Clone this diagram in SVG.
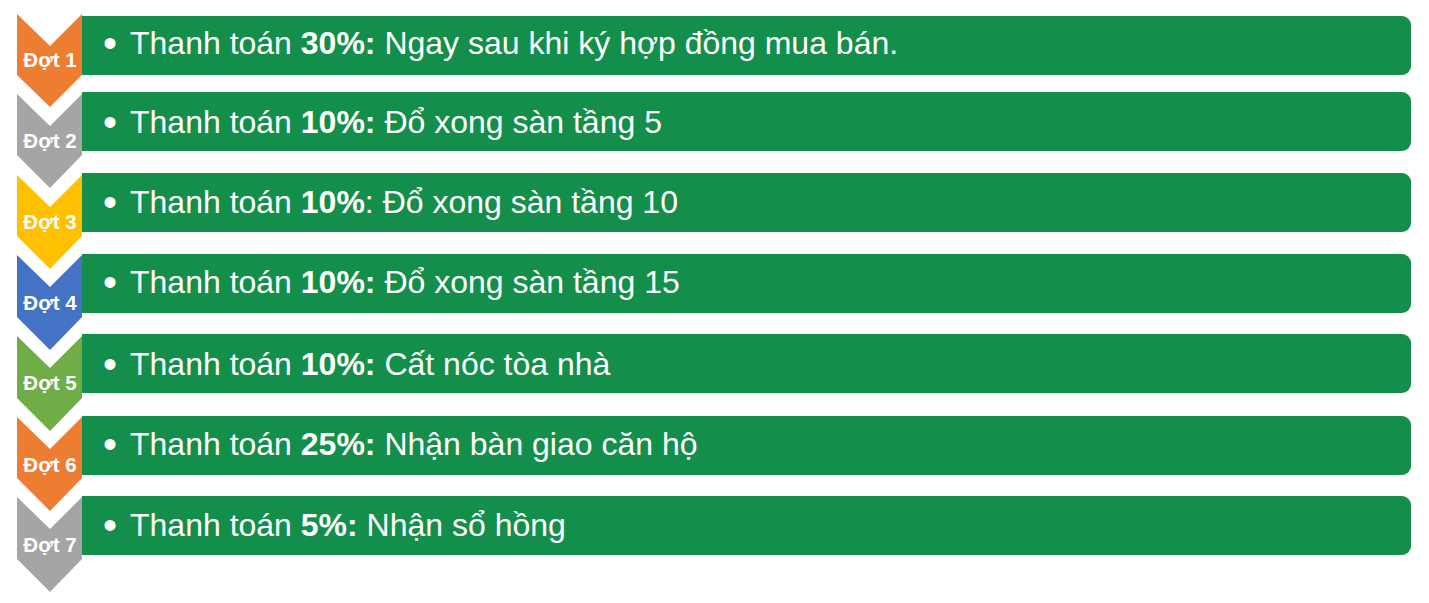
<svg xmlns="http://www.w3.org/2000/svg" width="1429" height="603" viewBox="0 0 1429 603">
<style>
.bar{fill:#148F4B}
.txt{font-family:"Liberation Sans",Arial,sans-serif;font-size:32px;fill:#fff}
.bul{font-family:"Liberation Sans",Arial,sans-serif;font-size:40px;fill:#fff}
.b{font-weight:bold}
.lbl{font-family:"Liberation Sans",Arial,sans-serif;font-size:20.5px;font-weight:bold;fill:#fff;text-anchor:middle}
</style>
<rect width="1429" height="603" fill="#fff"/>
<g id="row1">
<path class="bar" d="M82,16H1402A9,9 0 0 1 1411,25V66A9,9 0 0 1 1402,75H82Z"/>
<path fill="#ED7D31" d="M17,14L50,46L82,14V75L50,107L17,75Z"/>
<text class="lbl" x="50" y="67">Đợt 1</text>
<text class="bul" x="103" y="57">•</text>
<text class="txt" x="130" y="54">Thanh toán <tspan class="b">30%:</tspan> Ngay sau khi ký hợp đồng mua bán.</text>
</g>
<g id="row2">
<path class="bar" d="M82,92H1402A9,9 0 0 1 1411,101V142A9,9 0 0 1 1402,151H82Z"/>
<path fill="#A5A5A5" d="M17,94L50,126L82,94V155L50,188L17,155Z"/>
<text class="lbl" x="50" y="148">Đợt 2</text>
<text class="bul" x="103" y="136">•</text>
<text class="txt" x="130" y="133">Thanh toán <tspan class="b">10%:</tspan> Đổ xong sàn tầng 5</text>
</g>
<g id="row3">
<path class="bar" d="M82,173H1402A9,9 0 0 1 1411,182V223A9,9 0 0 1 1402,232H82Z"/>
<path fill="#FFC000" d="M17,175L50,207L82,175V236L50,269L17,236Z"/>
<text class="lbl" x="50" y="229">Đợt 3</text>
<text class="bul" x="103" y="216">•</text>
<text class="txt" x="130" y="213">Thanh toán <tspan class="b">10%</tspan>: Đổ xong sàn tầng 10</text>
</g>
<g id="row4">
<path class="bar" d="M82,254H1402A9,9 0 0 1 1411,263V304A9,9 0 0 1 1402,313H82Z"/>
<path fill="#4472C4" d="M17,255L50,287L82,255V317L50,350L17,317Z"/>
<text class="lbl" x="50" y="310">Đợt 4</text>
<text class="bul" x="103" y="296">•</text>
<text class="txt" x="130" y="293">Thanh toán <tspan class="b">10%:</tspan> Đổ xong sàn tầng 15</text>
</g>
<g id="row5">
<path class="bar" d="M82,334H1402A9,9 0 0 1 1411,343V384A9,9 0 0 1 1402,393H82Z"/>
<path fill="#70AD47" d="M17,336L50,368L82,336V398L50,431L17,398Z"/>
<text class="lbl" x="50" y="390">Đợt 5</text>
<text class="bul" x="103" y="378">•</text>
<text class="txt" x="130" y="375">Thanh toán <tspan class="b">10%:</tspan> Cất nóc tòa nhà</text>
</g>
<g id="row6">
<path class="bar" d="M82,416H1402A9,9 0 0 1 1411,425V466A9,9 0 0 1 1402,475H82Z"/>
<path fill="#ED7D31" d="M17,417L50,449L82,417V478L50,511L17,478Z"/>
<text class="lbl" x="50" y="472">Đợt 6</text>
<text class="bul" x="103" y="458">•</text>
<text class="txt" x="130" y="455">Thanh toán <tspan class="b">25%:</tspan> Nhận bàn giao căn hộ</text>
</g>
<g id="row7">
<path class="bar" d="M82,496H1402A9,9 0 0 1 1411,505V546A9,9 0 0 1 1402,555H82Z"/>
<path fill="#A5A5A5" d="M17,497L50,529L82,497V559L50,592L17,559Z"/>
<text class="lbl" x="50" y="552">Đợt 7</text>
<text class="bul" x="103" y="539">•</text>
<text class="txt" x="130" y="536">Thanh toán <tspan class="b">5%:</tspan> Nhận sổ hồng</text>
</g>
<g id="connectors"/>
</svg>
